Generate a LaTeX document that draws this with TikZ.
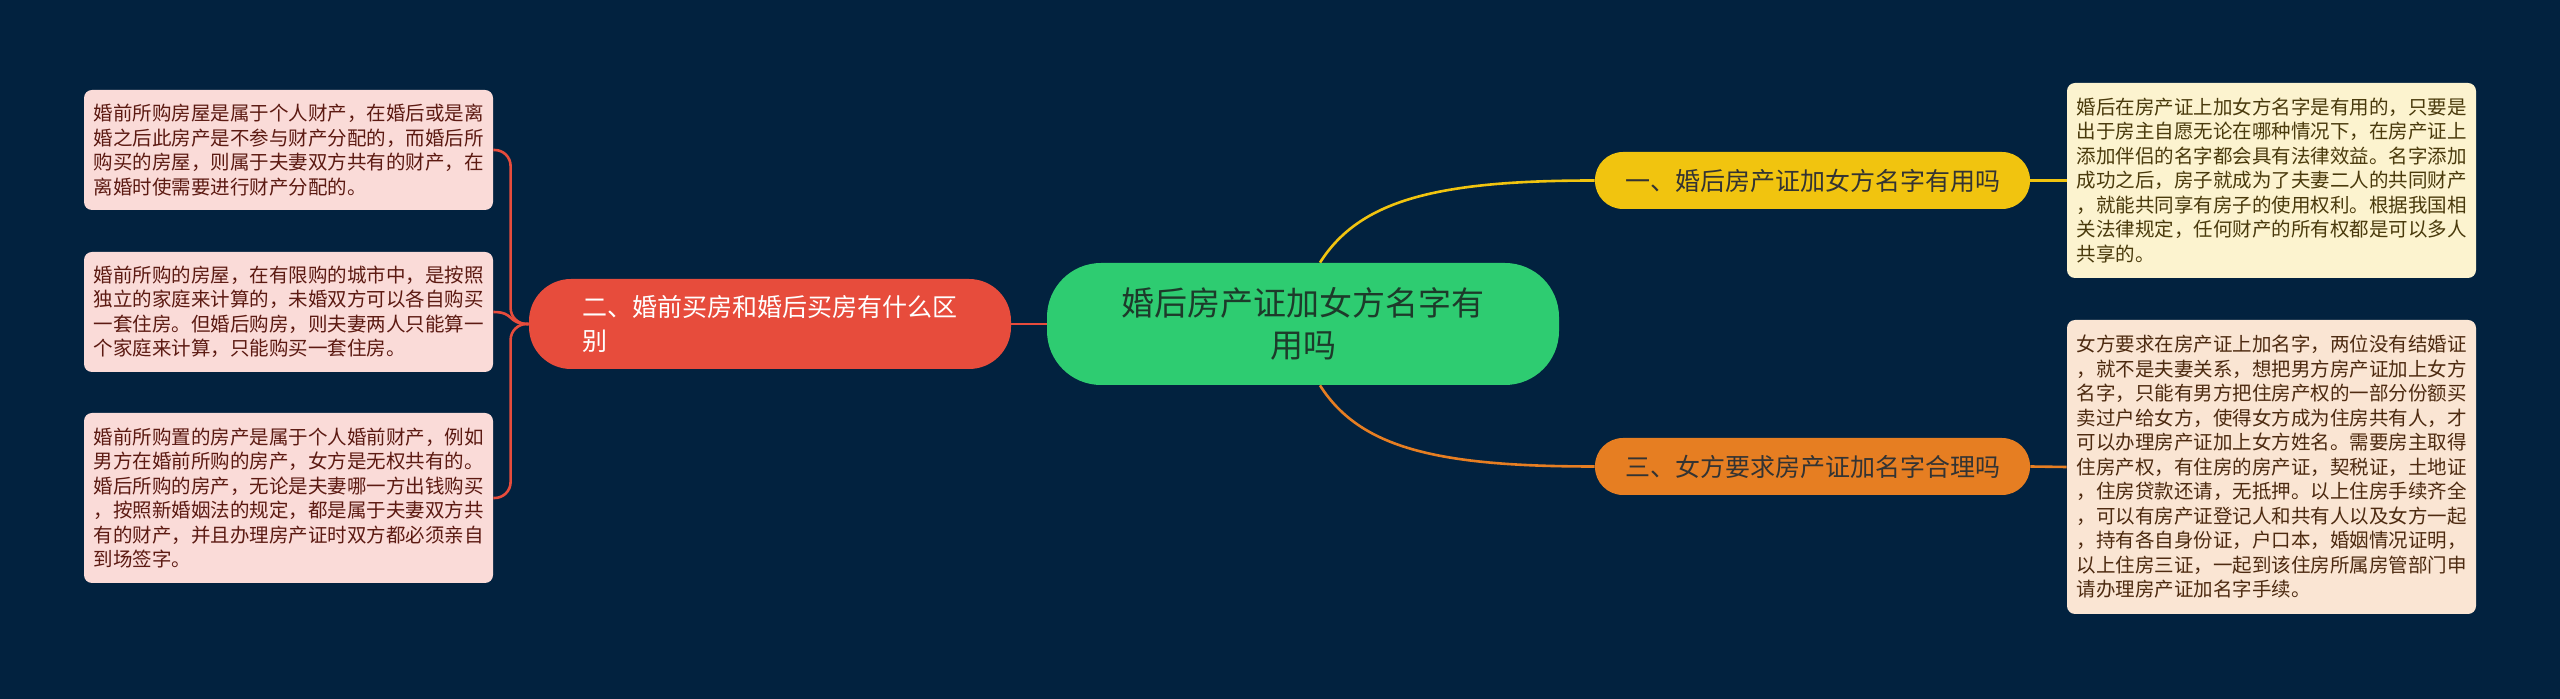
\documentclass[tikz,border=0pt]{standalone}
\usepackage{fontspec}
\setmainfont{Noto Sans CJK SC}
\usepackage{tikz}
\usepackage{xcolor}

\definecolor{bgnavy}{HTML}{02223F}
\definecolor{rootgreen}{HTML}{2ECC71}
\definecolor{roottext}{HTML}{1D3A2A}
\definecolor{subred}{HTML}{E74C3C}
\definecolor{subyellow}{HTML}{F1C40F}
\definecolor{suborange}{HTML}{E67E22}
\definecolor{leafpink}{HTML}{FADBD8}
\definecolor{leafcream}{HTML}{FCF3CF}
\definecolor{leafpeach}{HTML}{FAE5D3}
\definecolor{pinktext}{HTML}{5C1A12}
\definecolor{creamtext}{HTML}{4A3A0C}
\definecolor{peachtext}{HTML}{4D2A10}

\newcommand{\leaffont}{\fontsize{9.75}{12.25}\selectfont}
\newcommand{\subfont}{\fontsize{12.5}{17}\selectfont}

\begin{document}
\begin{tikzpicture}[x=0.5pt,y=-0.5pt,
  root/.style={fill=rootgreen,text=roottext,rounded corners=27pt,minimum width=256pt,minimum height=61pt,inner sep=0pt,align=center,font=\fontsize{16.5}{21}\selectfont},
  sub/.style={inner sep=0pt,minimum width=217.5pt,minimum height=28.5pt,rounded corners=14pt,font=\subfont},
  leaf/.style={rounded corners=4pt,minimum width=204.5pt,inner sep=2pt,align=left,font=\leaffont},
  link/.style={line width=1.3pt}]
\fill[bgnavy] (0,0) rectangle (2560,699);
\useasboundingbox (0,0) rectangle (2560,699);

\node[root] (root) at (1303,324) {婚后房产证加女方名字有\\用吗};
\node[sub,fill=subred,text=white,align=left,minimum width=241pt,minimum height=45pt,rounded corners=21pt] (diff) at (770,324) {二、婚前买房和婚后买房有什么区\\别};
\node[sub,fill=subyellow,text=black!80] (useful) at (1812.5,180.5) {一、婚后房产证加女方名字有用吗};
\node[sub,fill=suborange,text=black!80] (reason) at (1812.5,466.5) {三、女方要求房产证加名字合理吗};

\node[leaf,fill=leafpink,text=pinktext,minimum height=60pt] (l1) at (288.5,150) {婚前所购房屋是属于个人财产，在婚后或是离\\
婚之后此房产是不参与财产分配的，而婚后所\\
购买的房屋，则属于夫妻双方共有的财产，在\\
离婚时使需要进行财产分配的。};
\node[leaf,fill=leafpink,text=pinktext,minimum height=60pt] (l2) at (288.5,312) {婚前所购的房屋，在有限购的城市中，是按照\\
独立的家庭来计算的，未婚双方可以各自购买\\
一套住房。但婚后购房，则夫妻两人只能算一\\
个家庭来计算，只能购买一套住房。};
\node[leaf,fill=leafpink,text=pinktext,minimum height=85pt] (l3) at (288.5,498) {婚前所购置的房产是属于个人婚前财产，例如\\
男方在婚前所购的房产，女方是无权共有的。\\
婚后所购的房产，无论是夫妻哪一方出钱购买\\
，按照新婚姻法的规定，都是属于夫妻双方共\\
有的财产，并且办理房产证时双方都必须亲自\\
到场签字。};

\node[leaf,fill=leafcream,text=creamtext,minimum height=97.5pt] (r1) at (2271.5,180.5) {婚后在房产证上加女方名字是有用的，只要是\\
出于房主自愿无论在哪种情况下，在房产证上\\
添加伴侣的名字都会具有法律效益。名字添加\\
成功之后，房子就成为了夫妻二人的共同财产\\
，就能共同享有房子的使用权利。根据我国相\\
关法律规定，任何财产的所有权都是可以多人\\
共享的。};
\node[leaf,fill=leafpeach,text=peachtext,minimum height=147pt] (r2) at (2271.5,467) {女方要求在房产证上加名字，两位没有结婚证\\
，就不是夫妻关系，想把男方房产证加上女方\\
名字，只能有男方把住房产权的一部分份额买\\
卖过户给女方，使得女方成为住房共有人，才\\
可以办理房产证加上女方姓名。需要房主取得\\
住房产权，有住房的房产证，契税证，土地证\\
，住房贷款还请，无抵押。以上住房手续齐全\\
，可以有房产证登记人和共有人以及女方一起\\
，持有各自身份证，户口本，婚姻情况证明，\\
以上住房三证，一起到该住房所属房管部门申\\
请办理房产证加名字手续。};

\draw[link,subred] (diff.east) -- (root.west);
\draw[link,subred,rounded corners=8pt] (diff.west) -- ++(-18,0) |- (l1.east);
\draw[link,subred] (diff.west) .. controls +(-22,0) and +(22,0) .. (l2.east);
\draw[link,subred,rounded corners=8pt] (diff.west) -- ++(-18,0) |- (l3.east);

\draw[link,subyellow] ([xshift=8.5pt]root.north) .. controls +(40,-63) and +(-157,0) .. (useful.west);
\draw[link,suborange] ([xshift=8.5pt]root.south) .. controls +(40,63) and +(-157,0) .. (reason.west);
\draw[link,subyellow] (useful.east) -- (r1.west);
\draw[link,suborange] (reason.east) -- (r2.west);
\end{tikzpicture}
\end{document}
